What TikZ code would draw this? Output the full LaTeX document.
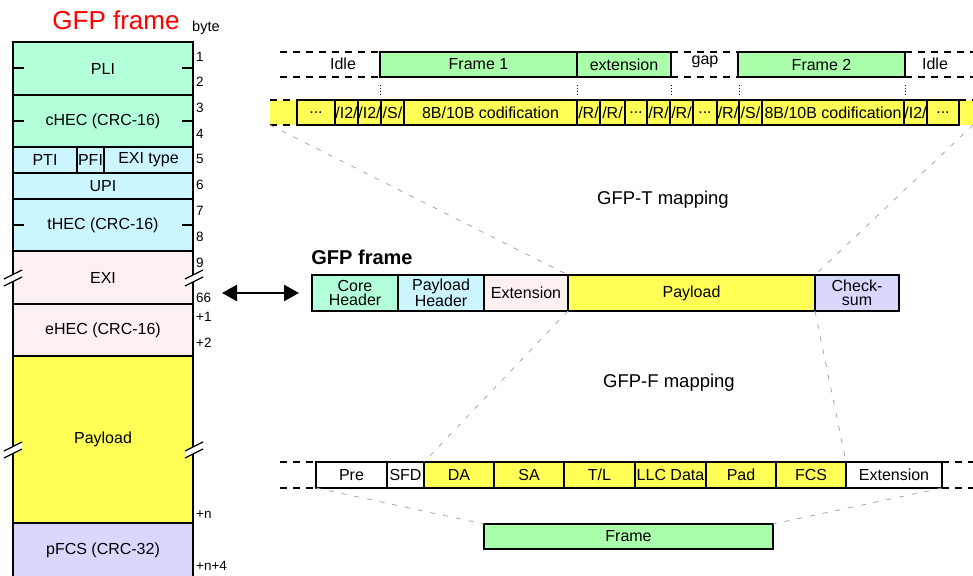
\documentclass[tikz,border=0pt]{standalone}
\usepackage{fontspec}
\setmainfont{Liberation Sans}
\usetikzlibrary{arrows.meta}
\definecolor{mint}{HTML}{B2FFDA}
\definecolor{cyanl}{HTML}{CCF6FF}
\definecolor{pinkl}{HTML}{FDF0F0}
\definecolor{yel}{HTML}{FFFF55}
\definecolor{lav}{HTML}{D8D8FF}
\definecolor{grn}{HTML}{AAFFAA}
\newcommand{\dts}{...}
\newcommand{\fsm}{\fontsize{16}{14.5}\selectfont}

\begin{document}
\begin{tikzpicture}[x=1pt,y=-1pt,
  cell/.style={draw,line width=2.6pt,inner sep=0pt,outer sep=0pt,font=\fsm,align=center},
  lbl/.style={inner sep=0pt,font=\fsm},
  num/.style={inner sep=0pt,anchor=west,font=\fontsize{13.5}{15}\selectfont},
  dashline/.style={line width=1.2pt,dash pattern=on 7pt off 6pt},
  map/.style={draw=gray!70,line width=0.8pt,dash pattern=on 5pt off 8pt},
  dblarrow/.style={{Triangle[length=15pt,width=16pt]}-{Triangle[length=15pt,width=16pt]},line width=2.5pt}]
\useasboundingbox (0,0) rectangle (973,575);
\clip (0,0) rectangle (973,575);

% left column
\node[font=\fontsize{26}{30}\selectfont,text=red,inner sep=0pt] (title) at (116,20) {GFP frame};
\node[inner sep=0pt,anchor=west,font=\fontsize{14.5}{16}\selectfont] (byte) at (192,28) {byte};
\foreach \nm/\ya/\yb/\col/\txt in {pli/42/95/mint/PLI, chec/95/147/mint/{cHEC (CRC-16)}, upi/173/199/cyanl/UPI, thec/199/251/cyanl/{tHEC (CRC-16)}, exi/251/304/pinkl/EXI, ehec/304/356/pinkl/{eHEC (CRC-16)}, lpay/356/523/yel/Payload, pfcs/523/578/lav/{pFCS (CRC-32)}}
  \node[cell,fill=\col,minimum width=180pt,minimum height={(\yb-\ya)*1pt}] (\nm) at (103,{(\ya+\yb)/2}) {\txt};
\foreach \nm/\xa/\xb/\txt in {pti/13/77/PTI, pfi/77/104/PFI, exitype/104/193/{EXI type}}
  \node[cell,fill=cyanl,minimum width={(\xb-\xa)*1pt},minimum height=26pt] (\nm) at ({(\xa+\xb)/2},160) {\txt};
\foreach \yy in {68,121,225}
  \draw[line width=1.5pt] (13,\yy) -- (24,\yy) (182,\yy) -- (193,\yy);
\foreach \yy in {278,450}
  \foreach \xx in {4,185} {
    \fill[white] (\xx,\yy+1) -- (\xx+18,\yy-8) -- (\xx+18,\yy-1) -- (\xx,\yy+8) -- cycle;
    \draw[line width=1.2pt] (\xx,\yy+1) -- (\xx+18,\yy-8) (\xx,\yy+8) -- (\xx+18,\yy-1);
  }
\foreach \t/\yy [count=\i] in {1/57,2/82,3/108,4/134,5/159,6/185,7/211,8/237,9/263,66/298,+1/317,+2/343,+n/515,+n+4/566}
  \node[num] (b\i) at (196,\yy) {\t};

% GFP-T
\node[lbl] (idle1) at (343,64) {Idle};
\node[cell,fill=grn,minimum width=197pt,minimum height=25pt] (f1) at (478.5,64.5) {Frame 1};
\node[cell,fill=grn,minimum width=94pt,minimum height=25pt] (ext1) at (624,64.5) {extension};
\node[lbl] (gap) at (705,62) {gap};
\node[cell,fill=grn,minimum width=167pt,minimum height=25pt] (f2) at (821.5,64.5) {Frame 2};
\node[lbl] (idle2) at (935,64) {Idle};
\draw[dashline] (280,52) -- (f1.north west) (280,77) -- (f1.south west)
  (ext1.north east) -- (f2.north west) (ext1.south east) -- (f2.south west)
  (f2.north east) -- (973,52) (f2.south east) -- (973,77);
\foreach \xx in {380,577,671,739,905}
  \draw[line width=1pt,dotted] (\xx,85) -- (\xx,96);
\node[fill=yel,inner sep=0pt,outer sep=0pt,minimum width=703pt,minimum height=25pt] (strip) at (621.5,112.5) {};
\foreach \xa/\xb/\txt [count=\i] in {297/335/\dts, 335/358/{/I2/}, 358/381/{/I2/}, 381/404/{/S/}, 404/577/{8B/10B codification}, 577/600/{/R/}, 600/625/{/R/}, 625/647/\dts, 647/670/{/R/}, 670/693/{/R/}, 693/717/\dts, 717/739/{/R/}, 739/762/{/S/}, 762/904/{8B/10B codification}, 904/927/{/I2/}, 927/959/\dts}
  \node[cell,fill=yel,minimum width={(\xb-\xa)*1pt},minimum height=25pt] (r\i) at ({(\xa+\xb)/2},112.5) {\txt};
\draw[dashline] (strip.north west) -- (r1.north west) (strip.south west) -- (r1.south west)
  (r16.north east) -- (strip.north east);
\node[lbl,font=\fontsize{18.5}{21}\selectfont] (tmap) at (663,200) {GFP-T mapping};

% GFP frame
\node[font=\bfseries\fontsize{20}{24}\selectfont,inner sep=0pt] (gfptitle) at (362,257) {GFP frame};
\foreach \nm/\xa/\xb/\col/\txt in {core/312/398/mint/{Core\\Header}, phd/398/484/cyanl/{Payload\\Header}, gext/484/568/pinkl/Extension, gpay/568/815/yel/Payload, chk/815/899/lav/{Check-\\sum}}
  \node[cell,fill=\col,minimum width={(\xb-\xa)*1pt},minimum height=36pt] (\nm) at ({(\xa+\xb)/2},293) {\txt};
\coordinate (arrL) at (222,293);
\draw[dblarrow,shorten >=13pt] (arrL) -- (core.west);
\node[lbl,font=\fontsize{18.5}{21}\selectfont] (fmap) at (669,383) {GFP-F mapping};

% GFP-F
\foreach \nm/\xa/\xb/\col/\txt in {pre/316/387/white/Pre, sfd/387/424/white/SFD, da/424/494/yel/DA, sa/494/564/yel/SA, tl/564/635/yel/{T/L}, llc/635/706/yel/{LLC Data}, pad/706/776/yel/Pad, fcs/776/846/yel/FCS, extb/846/942/white/Extension}
  \node[cell,fill=\col,minimum width={(\xb-\xa)*1pt},minimum height=26pt] (\nm) at ({(\xa+\xb)/2},475) {\txt};
\draw[dashline] (280,462) -- (pre.north west) (280,488) -- (pre.south west)
  (extb.north east) -- (973,462) (extb.south east) -- (973,488);
\node[cell,fill=grn,minimum width=289pt,minimum height=25pt] (frame) at (628.5,536.5) {Frame};

\draw[map] (strip.south west) -- (gpay.north west);
\draw[map] (strip.south east) -- (chk.north west);
\draw[map] (gpay.south west) -- (da.north west);
\draw[map] (chk.south west) -- (fcs.north east);
\draw[map] (pre.south west) -- (frame.north west);
\draw[map] (extb.south east) -- (frame.north east);
\end{tikzpicture}
\end{document}
